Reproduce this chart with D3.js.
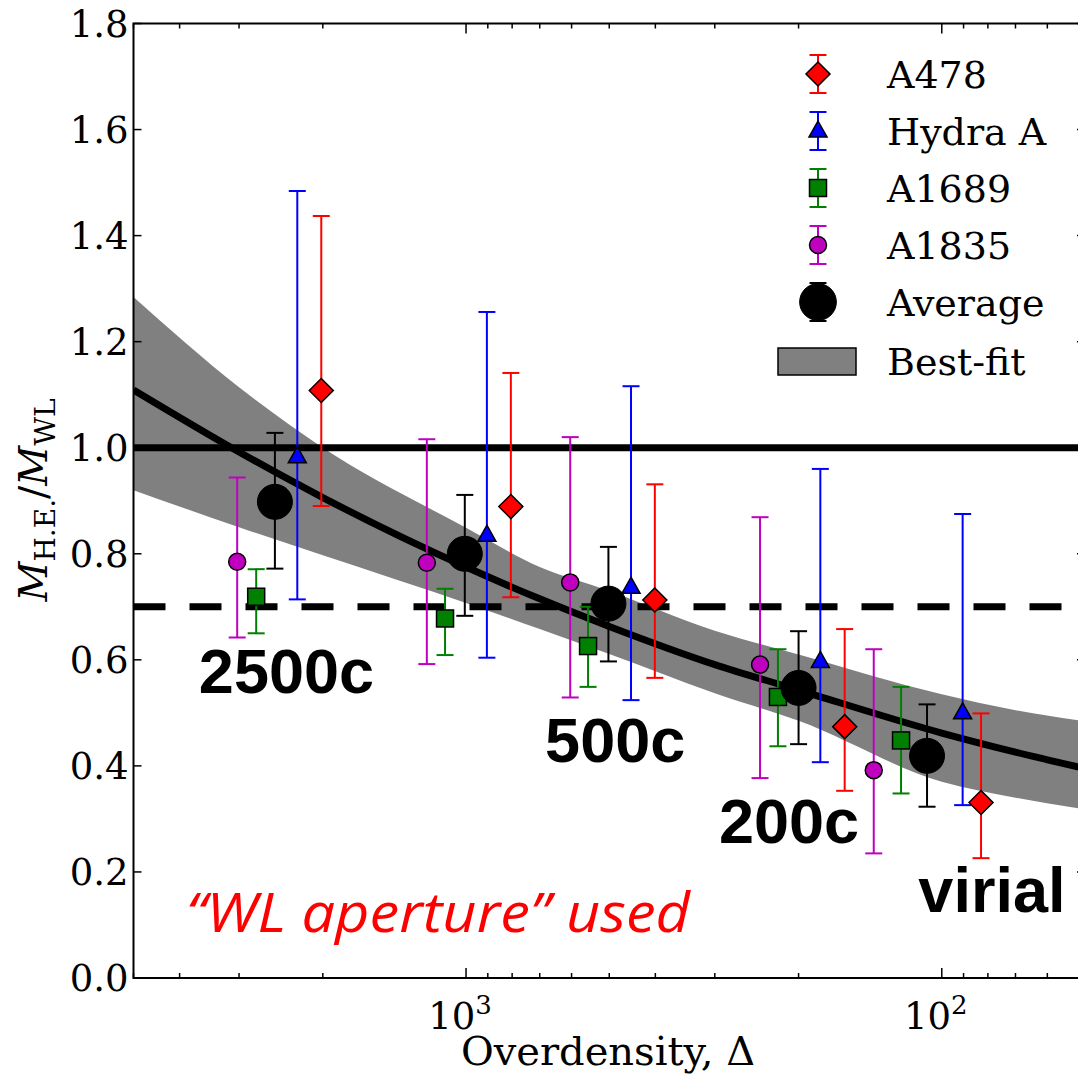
<!DOCTYPE html>
<html>
<head>
<meta charset="utf-8">
<script src="https://cdn.jsdelivr.net/npm/d3@7"></script>
<style>
  html, body { margin: 0; padding: 0; background: #fff; }
  svg { display: block; }
</style>
</head>
<body>
<svg id="chart" width="1078" height="1074"></svg>
<script>
// ---------------- data ----------------
const yTicks = [0.0, 0.2, 0.4, 0.6, 0.8, 1.0, 1.2, 1.4, 1.6, 1.8];
const xMajorTicks = [1000, 100];
const xMajorLabels = ["3", "2"];

const a478Delta = [2015, 805, 401, 160, 82.7];
const a478Val   = [1.108, 0.889, 0.713, 0.474, 0.331];
const a478Lo    = [0.890, 0.718, 0.566, 0.353, 0.226];
const a478Hi    = [1.437, 1.141, 0.931, 0.658, 0.499];

const hydraDelta = [2263, 904, 450, 180, 90.4];
const hydraVal   = [0.983, 0.835, 0.737, 0.597, 0.500];
const hydraLo    = [0.714, 0.604, 0.524, 0.407, 0.326];
const hydraHi    = [1.484, 1.256, 1.116, 0.960, 0.875];

const a1689Delta = [2761, 1107, 554, 221, 121.8];
const a1689Val   = [0.719, 0.678, 0.626, 0.530, 0.448];
const a1689Lo    = [0.650, 0.609, 0.549, 0.437, 0.348];
const a1689Hi    = [0.771, 0.734, 0.700, 0.620, 0.549];

const a1835Delta = [3027, 1209, 604, 241, 139];
const a1835Val   = [0.785, 0.783, 0.746, 0.591, 0.392];
const a1835Lo    = [0.642, 0.592, 0.529, 0.377, 0.235];
const a1835Hi    = [0.944, 1.016, 1.020, 0.869, 0.620];

const avgDelta = [2522, 1006, 502, 200, 107.4];
const avgVal   = [0.898, 0.800, 0.706, 0.547, 0.419];
const avgLo    = [0.772, 0.683, 0.597, 0.441, 0.323];
const avgHi    = [1.028, 0.911, 0.813, 0.654, 0.516];

const fitDelta = [5000, 3000, 2000, 1000, 700, 500, 300, 200, 100, 70, 50];
const fitVal   = [1.109, 0.992, 0.906, 0.775, 0.715, 0.663, 0.591, 0.543, 0.462, 0.426, 0.395];
const fitHi    = [1.284, 1.114, 1.000, 0.849, 0.775, 0.730, 0.655, 0.610, 0.535, 0.505, 0.484];
const fitLo    = [0.920, 0.850, 0.797, 0.707, 0.658, 0.611, 0.537, 0.485, 0.370, 0.340, 0.318];

const unityLevel = 1.0;
const dashedLevel = 0.70;

const annotations = ["2500c", "500c", "200c", "virial"];
const annotationDelta = [3644, 682, 294, 112];
const annotationVal = [0.537, 0.407, 0.2546, 0.1245];

const legendNames = ["A478", "Hydra A", "A1689", "A1835", "Average", "Best-fit"];

// ---------------- layout ----------------
const svg = d3.select("#chart");
const pLeft = 133.5, pRight = 1085, pTop = 23.5, pBottom = 978;
const x = d3.scaleLog().domain([5000, 50]).range([pLeft, pRight]);
const y = d3.scaleLinear().domain([0, 1.8]).range([pBottom, pTop]);
const serif = "DejaVu Serif";

const defs = svg.append("defs");
defs.append("clipPath").attr("id", "plotclip")
  .append("rect").attr("x", pLeft).attr("y", pTop).attr("width", pRight - pLeft).attr("height", pBottom - pTop);

const plot = svg.append("g").attr("clip-path", "url(#plotclip)");

// best-fit band
const bandData = fitDelta.map((d, i) => ({d, lo: fitLo[i], hi: fitHi[i]}));
plot.append("path")
  .datum(bandData)
  .attr("fill", "#808080")
  .attr("d", d3.area().x(p => x(p.d)).y0(p => y(p.lo)).y1(p => y(p.hi)).curve(d3.curveMonotoneX));

// best-fit line
const fitData = fitDelta.map((d, i) => ({d, v: fitVal[i]}));
plot.append("path")
  .datum(fitData)
  .attr("fill", "none").attr("stroke", "#000").attr("stroke-width", 7)
  .attr("d", d3.line().x(p => x(p.d)).y(p => y(p.v)).curve(d3.curveMonotoneX));

// reference lines
plot.append("line")
  .attr("x1", pLeft).attr("x2", pRight).attr("y1", y(unityLevel)).attr("y2", y(unityLevel))
  .attr("stroke", "#000").attr("stroke-width", 7);
plot.append("line")
  .attr("x1", pLeft).attr("x2", pRight).attr("y1", y(dashedLevel)).attr("y2", y(dashedLevel))
  .attr("stroke", "#000").attr("stroke-width", 7).attr("stroke-dasharray", "32,24");

// ---------------- markers ----------------
function drawMarker(g, shape, cx, cy, fill, scale) {
  const s = scale || 1;
  if (shape === "diamond") {
    const r = 12 * s;
    g.append("path").attr("d", `M${cx},${cy - r}L${cx + r},${cy}L${cx},${cy + r}L${cx - r},${cy}Z`)
      .attr("fill", fill).attr("stroke", "#000").attr("stroke-width", 1.5);
  } else if (shape === "triangle") {
    const w = 9 * s, h1 = 10 * s, h2 = 6 * s;
    g.append("path").attr("d", `M${cx},${cy - h1}L${cx + w},${cy + h2}L${cx - w},${cy + h2}Z`)
      .attr("fill", fill).attr("stroke", "#000").attr("stroke-width", 1.5);
  } else if (shape === "square") {
    const h = 8.5 * s;
    g.append("rect").attr("x", cx - h).attr("y", cy - h).attr("width", 2 * h).attr("height", 2 * h)
      .attr("fill", fill).attr("stroke", "#000").attr("stroke-width", 1.5);
  } else if (shape === "circle") {
    g.append("circle").attr("cx", cx).attr("cy", cy).attr("r", 8.5 * s)
      .attr("fill", fill).attr("stroke", "#000").attr("stroke-width", 1.5);
  } else if (shape === "big") {
    g.append("circle").attr("cx", cx).attr("cy", cy).attr("r", 17.5 * s)
      .attr("fill", fill).attr("stroke", "#000").attr("stroke-width", 1);
  }
}

function errorBar(g, cx, y1, y2, color) {
  const cap = 8.5;
  g.append("line").attr("x1", cx).attr("x2", cx).attr("y1", y1).attr("y2", y2)
    .attr("stroke", color).attr("stroke-width", 2);
  g.append("line").attr("x1", cx - cap).attr("x2", cx + cap).attr("y1", y1).attr("y2", y1)
    .attr("stroke", color).attr("stroke-width", 2);
  g.append("line").attr("x1", cx - cap).attr("x2", cx + cap).attr("y1", y2).attr("y2", y2)
    .attr("stroke", color).attr("stroke-width", 2);
}

const series = [
  {deltas: a1835Delta, vals: a1835Val, lo: a1835Lo, hi: a1835Hi, color: "#bf00bf", shape: "circle"},
  {deltas: a1689Delta, vals: a1689Val, lo: a1689Lo, hi: a1689Hi, color: "#007f00", shape: "square"},
  {deltas: avgDelta, vals: avgVal, lo: avgLo, hi: avgHi, color: "#000000", shape: "big"},
  {deltas: hydraDelta, vals: hydraVal, lo: hydraLo, hi: hydraHi, color: "#0000ff", shape: "triangle"},
  {deltas: a478Delta, vals: a478Val, lo: a478Lo, hi: a478Hi, color: "#ff0000", shape: "diamond"}
];

const pts = plot.append("g");
series.forEach(s => {
  const g = pts.append("g");
  s.deltas.forEach((d, i) => {
    errorBar(g, x(d), y(s.hi[i]), y(s.lo[i]), s.color);
    drawMarker(g, s.shape, x(d), y(s.vals[i]), s.color);
  });
});

// ---------------- axes ----------------
const axes = svg.append("g");
axes.append("rect").attr("x", pLeft).attr("y", pTop).attr("width", pRight - pLeft).attr("height", pBottom - pTop)
  .attr("fill", "none").attr("stroke", "#000").attr("stroke-width", 2);

// y ticks (both sides, inward)
yTicks.forEach(t => {
  axes.append("line").attr("x1", pLeft).attr("x2", pLeft + 8).attr("y1", y(t)).attr("y2", y(t))
    .attr("stroke", "#000").attr("stroke-width", 1.5);
  axes.append("line").attr("x1", pRight - 8).attr("x2", pRight).attr("y1", y(t)).attr("y2", y(t))
    .attr("stroke", "#000").attr("stroke-width", 1.5);
  axes.append("text").attr("x", pLeft - 5).attr("y", y(t) + 13)
    .attr("text-anchor", "end").attr("font-family", serif).attr("font-size", 37)
    .text(t.toFixed(1));
});

// x ticks (major + minor, bottom & top, inward)
const allX = x.ticks().filter(t => t >= 50 && t <= 5000);
allX.forEach(t => {
  const major = xMajorTicks.includes(t);
  const len = major ? 10 : 5;
  axes.append("line").attr("x1", x(t)).attr("x2", x(t)).attr("y1", pBottom).attr("y2", pBottom - len)
    .attr("stroke", "#000").attr("stroke-width", 1.5);
  axes.append("line").attr("x1", x(t)).attr("x2", x(t)).attr("y1", pTop).attr("y2", pTop + len)
    .attr("stroke", "#000").attr("stroke-width", 1.5);
});
xMajorTicks.forEach((t, i) => {
  const tx = axes.append("text").attr("x", x(t) - 6).attr("y", 1029)
    .attr("text-anchor", "middle").attr("font-family", serif).attr("font-size", 37);
  tx.append("tspan").text("10");
  tx.append("tspan").attr("dy", -15).attr("font-size", 26).text(xMajorLabels[i]);
});

// axis labels
axes.append("text").attr("x", 608).attr("y", 1065).attr("text-anchor", "middle")
  .attr("font-family", serif).attr("font-size", 40).text("Overdensity, Δ");

const yl = axes.append("text").attr("transform", "translate(47,500) rotate(-90)")
  .attr("text-anchor", "middle").attr("font-family", serif).attr("font-size", 39);
yl.append("tspan").attr("font-style", "italic").text("M");
yl.append("tspan").attr("font-size", 28).attr("dy", 8).text("H.E.");
yl.append("tspan").attr("dy", -8).text("/");
yl.append("tspan").attr("font-style", "italic").text("M");
yl.append("tspan").attr("font-size", 28).attr("dy", 8).text("WL");

// ---------------- legend ----------------
const legend = svg.append("g");
const lx = 818, ltx = 887;
const rows = [74, 131, 188, 245, 302, 361];
const legSpec = [
  {shape: "diamond", color: "#ff0000"},
  {shape: "triangle", color: "#0000ff"},
  {shape: "square", color: "#007f00"},
  {shape: "circle", color: "#bf00bf"},
  {shape: "big", color: "#000000"},
  {shape: "rect", color: "#808080"}
];
legSpec.forEach((s, i) => {
  const cy = rows[i];
  if (s.shape === "rect") {
    legend.append("rect").attr("x", 778).attr("y", cy - 13).attr("width", 78).attr("height", 27)
      .attr("fill", s.color).attr("stroke", "#000").attr("stroke-width", 1.5);
  } else {
    errorBar(legend, lx, cy - 19, cy + 19, s.color);
    drawMarker(legend, s.shape, lx, cy, s.color, s.shape === "big" ? 1.05 : 1);
  }
  legend.append("text").attr("x", ltx).attr("y", cy + 14)
    .attr("font-family", serif).attr("font-size", 38).text(legendNames[i]);
});

// ---------------- annotations ----------------
const ann = svg.append("g");
annotations.forEach((a, i) => {
  ann.append("text").attr("x", x(annotationDelta[i])).attr("y", y(annotationVal[i]))
    .attr("font-family", "Liberation Sans, Arial, sans-serif").attr("font-weight", "bold")
    .attr("font-size", 63).attr("text-anchor", "start").text(a);
});

ann.append("text").attr("x", 186).attr("y", 932)
  .attr("font-family", "Open Sans, sans-serif").attr("font-style", "italic")
  .attr("font-size", 54).attr("fill", "#ff0000")
  .attr("textLength", 504).attr("lengthAdjust", "spacingAndGlyphs")
  .text("“WL aperture” used");
</script>
</body>
</html>
